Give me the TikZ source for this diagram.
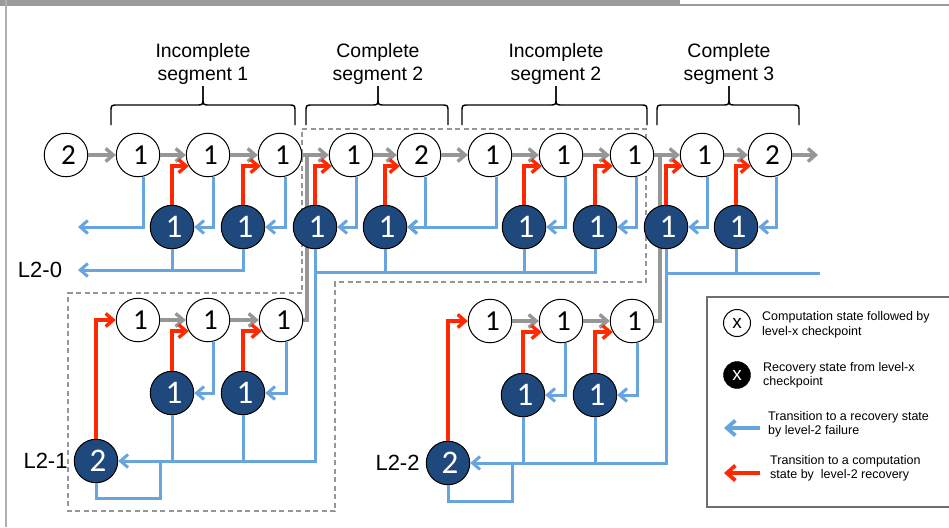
\documentclass[tikz,border=0pt]{standalone}
\usepackage{fontspec}
\setmainfont{Liberation Sans}
\newfontfamily\digitfont{Carlito}
\usetikzlibrary{arrows.meta,calc}

\definecolor{stateblue}{RGB}{31,73,125}
\definecolor{failblue}{RGB}{104,164,221}
\definecolor{recred}{RGB}{255,40,0}
\definecolor{flowgray}{RGB}{150,150,150}
\definecolor{framegray}{RGB}{155,155,155}
\definecolor{legendgray}{RGB}{110,110,110}

\pgfdeclarelayer{under}
\pgfsetlayers{under,main}

\tikzset{
  barb/.tip={Straight Barb[length=7.5pt,width=13pt]},
  bigbarb/.tip={Straight Barb[length=8.5pt,width=15pt]},
  comp/.style={circle,draw=black,line width=1pt,fill=white,minimum size=43.5pt,inner sep=0pt,
    font=\digitfont\fontsize{29}{29}\selectfont,execute at begin node=\hspace*{5pt}},
  reco/.style={circle,draw=black,line width=1pt,fill=stateblue,text=white,minimum size=43.5pt,inner sep=0pt,
    font=\digitfont\fontsize{33}{33}\selectfont,execute at begin node=\hspace*{4pt}},
  flow/.style={draw=flowgray,line width=3.4pt,-barb},
  flowline/.style={draw=flowgray,line width=3.4pt},
  fail/.style={draw=failblue,line width=3pt,-barb},
  failline/.style={draw=failblue,line width=3pt},
  recov/.style={draw=recred,line width=3.4pt,-barb},
  seglabel/.style={align=center,inner sep=0pt,font=\fontsize{19.4}{23}\selectfont},
  rowlabel/.style={inner sep=0pt,font=\fontsize{22}{22}\selectfont},
  legtext/.style={anchor=west,align=left,inner sep=0pt,font=\fontsize{12.5}{14.5}\selectfont},
  segbrace/.style={draw=black,line width=1.4pt,line join=round},
  groupbox/.style={draw=flowgray,line width=1.2pt,dash pattern=on 5pt off 3.5pt},
}

\begin{document}
\begin{tikzpicture}[x=1pt,y=-1pt]
\useasboundingbox (0,0) rectangle (949,527);

% page frame
\fill[framegray] (0,0) rectangle (680,6.5);
\draw[framegray,line width=2pt] (680,5.5) -- (949,5.5);
\draw[framegray!80,line width=2.5pt] (6,0) -- (6,527);

% dashed group around complete segment 2 and its level-2 rollback row
\draw[groupbox] (302,129) -- (646,129) -- (646,282) -- (335,282) -- (335,511)
  -- (68,511) -- (68,293) -- (302,293) -- cycle;

% segment braces and titles
\foreach \a/\m/\b/\txt in {111/203/295/{Incomplete\\segment 1},
                           306/378/448/{Complete\\segment 2},
                           462/556/647/{Incomplete\\segment 2},
                           657/729/799/{Complete\\segment 3}} {
  \draw[segbrace] (\a,125) -- (\a,112) .. controls (\a,105) .. (\a+7,105) -- (\m-7,105)
    .. controls (\m,105) .. (\m,98) -- (\m,86);
  \draw[segbrace] (\m,86) -- (\m,98) .. controls (\m,105) .. (\m+7,105) -- (\b-7,105)
    .. controls (\b,105) .. (\b,112) -- (\b,125);
  \node[seglabel] at (\m,63.5) {\txt};
}

% computation states (top row)
\node[comp] (T0) at (66,155) {2};
\node[comp] (T1) at (138,155) {1};
\node[comp] (T2) at (208,155) {1};
\node[comp] (T3) at (280,155) {1};
\node[comp] (T4) at (351,155) {1};
\node[comp] (T5) at (419,155) {2};
\node[comp] (T6) at (490,155) {1};
\node[comp] (T7) at (561,155) {1};
\node[comp] (T8) at (632,155) {1};
\node[comp] (T9) at (702,155) {1};
\node[comp] (T10) at (770,155) {2};

% recovery states (second row)
\node[reco] (D1) at (172,227) {1};
\node[reco] (D2) at (243,227) {1};
\node[reco] (D3) at (315,227) {1};
\node[reco] (D4) at (385,227) {1};
\node[reco] (D5) at (524,227) {1};
\node[reco] (D6) at (595,227) {1};
\node[reco] (D7) at (666,227) {1};
\node[reco] (D8) at (736,227) {1};

% level-2 rollback row L2-1
\node[comp] (R1) at (138,320) {1};
\node[comp] (R2) at (208,320) {1};
\node[comp] (R3) at (281,320) {1};
\node[reco] (E1) at (172,393) {1};
\node[reco] (E2) at (243,393) {1};
\node[reco] (E0) at (96,461) {2};

% level-2 rollback row L2-2
\node[comp] (S1) at (490,321) {1};
\node[comp] (S2) at (561,321) {1};
\node[comp] (S3) at (632,321) {1};
\node[reco] (G1) at (523,395) {1};
\node[reco] (G2) at (595,395) {1};
\node[reco] (F0) at (448,463) {2};

% row labels
\node[rowlabel] (L0) at (40,270) {L2-0};
\node[rowlabel,anchor=east] (L1) at ([xshift=-6pt]E0.west) {L2-1};
\node[rowlabel,anchor=east] (L2) at ([xshift=-6pt]F0.west) {L2-2};

% free ends and junctions
\coordinate (outA) at (78,227);
\coordinate (outB) at (78,270);
\coordinate (busA) at (315,272);
\coordinate (busB) at (820,273);
\coordinate (joinA) at (307,155);
\coordinate (joinB) at (660,155);
\coordinate (tail) at (818,155);
\coordinate (loopA) at (160,498);
\coordinate (loopB) at (512,501);

% forward computation
\draw[flow] (T0) -- (T1);
\draw[flow] (T1) -- (T2);
\draw[flow] (T2) -- (T3);
\draw[flow] (T3) -- (T4);
\draw[flow] (T4) -- (T5);
\draw[flow] (T5) -- (T6);
\draw[flow] (T6) -- (T7);
\draw[flow] (T7) -- (T8);
\draw[flow] (T8) -- (T9);
\draw[flow] (T9) -- (T10);
\draw[flow] (T10) -- (tail);
\draw[flow] (R1) -- (R2);
\draw[flow] (R2) -- (R3);
\draw[flow] (S1) -- (S2);
\draw[flow] (S2) -- (S3);
% rollback rows rejoin the main row behind the recovery states
\begin{pgfonlayer}{under}
\draw[flowline] (R3.east) -| (joinA);
\draw[flowline] (S3.east) -| (joinB);
\end{pgfonlayer}

% level-1 failures: computation -> recovery
\draw[fail] ($(T1.south)+(5,0)$) |- (outA);
\draw[fail] ($(T2.south)+(5,0)$) |- (D1.east);
\draw[fail] ($(T3.south)+(5,0)$) |- (D2.east);
\draw[fail] ($(T4.south)+(5,0)$) |- (D3.east);
\draw[fail] ($(T5.south)+(6,0)$) |- (D4.east);
\draw[fail] ($(T6.south)+(6,0)$) |- (D4.east);
\draw[fail] ($(T7.south)+(4,0)$) |- (D5.east);
\draw[fail] ($(T8.south)+(4,0)$) |- (D6.east);
\draw[fail] ($(T9.south)+(5,0)$) |- (D7.east);
\draw[fail] ($(T10.south)+(6,0)$) |- (D8.east);
\draw[fail] ($(R2.south)+(5,0)$) |- (E1.east);
\draw[fail] ($(R3.south)+(5,0)$) |- (E2.east);
\draw[fail] ($(S2.south)+(4,0)$) |- (G1.east);
\draw[fail] ($(S3.south)+(5,0)$) |- (G2.east);

% recoveries: recovery -> computation
\draw[recov] (D1.north) |- (T2.210);
\draw[recov] (D2.north) |- (T3.210);
\draw[recov] (D3.north) |- (T4.210);
\draw[recov] (D4.north) |- (T5.210);
\draw[recov] (D5.north) |- (T7.210);
\draw[recov] (D6.north) |- (T8.210);
\draw[recov] (D7.north) |- (T9.210);
\draw[recov] (D8.north) |- (T10.210);
\draw[recov] (E0.north) |- (R1.west);
\draw[recov] (E1.north) |- (R2.210);
\draw[recov] (E2.north) |- (R3.210);
\draw[recov] (F0.north) |- (S1.west);
\draw[recov] (G1.north) |- (S2.210);
\draw[recov] (G2.north) |- (S3.210);

% level-2 failures in incomplete segment 1
\draw[fail] (D2.south) |- (outB);
\draw[failline] (D1.south) -- (D1.south |- outB);

% level-2 failures in segment 2 -> L2-1
\draw[failline] (D6.south) |- (busA);
\draw[failline] (D4.south) -- (D4.south |- busA);
\draw[failline] (D5.south) -- (D5.south |- busA);
\draw[fail] (D3.south) |- (E0.east);
\draw[failline] ($(R1.south)+(2,0)$) -- ($(R1.south)+(2,0)$ |- E0.east);
\draw[failline] (E1.south) -- (E1.south |- E0.east);
\draw[failline] (E2.south) -- (E2.south |- E0.east);
\draw[failline] (E0.south) |- (loopA) -- (loopA |- E0.east);

% level-2 failures in segment 3 -> L2-2
\draw[failline] (D7.south |- busB) -- (busB);
\draw[failline] (D8.south) -- (D8.south |- busB);
\draw[fail] (D7.south) |- (F0.east);
\draw[failline] ($(S1.south)+(1,0)$) -- ($(S1.south)+(1,0)$ |- F0.east);
\draw[failline] (G1.south) -- (G1.south |- F0.east);
\draw[failline] (G2.south) -- (G2.south |- F0.east);
\draw[failline] (F0.south) |- (loopB) -- (loopB |- F0.east);

% legend
\draw[legendgray,line width=1.2pt] (949,297) -- (707,297) -- (707,507) -- (949,507);
\node[circle,draw=black,line width=1pt,fill=white,minimum size=27pt,inner sep=0pt,
  font=\fontsize{19}{19}\selectfont] (kc) at (737,323) {x};
\node[circle,draw=black,fill=black,text=white,minimum size=27pt,inner sep=0pt,
  font=\fontsize{19}{19}\selectfont] (kr) at (737,375) {x};
\coordinate (kfa) at (760,428);
\coordinate (kfb) at (724,428);
\coordinate (kra) at (760,473);
\coordinate (krb) at (724,473);
\draw[draw=failblue,line width=3.8pt,-bigbarb] (kfa) -- (kfb);
\draw[draw=recred,line width=3.8pt,-bigbarb] (kra) -- (krb);
\node[legtext] (kct) at (762,325) {Computation state followed by\\level-x checkpoint};
\node[legtext] (krt) at (763,375.5) {Recovery state from level-x\\checkpoint};
\node[legtext] (kft) at (768,424.5) {Transition to a recovery state\\by level-2 failure};
\node[legtext] (krr) at (770,468.5) {Transition to a computation\\state by\ \ level-2 recovery};
\end{tikzpicture}
\end{document}
